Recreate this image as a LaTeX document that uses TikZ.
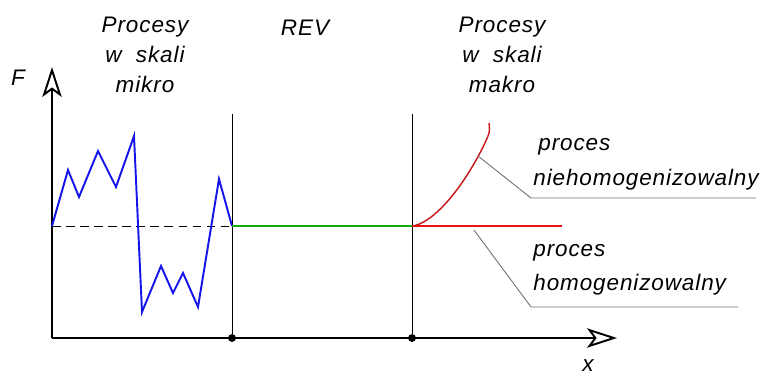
\documentclass[tikz,border=0pt]{standalone}
\usepackage{fontspec}
\setmainfont{Liberation Sans}
\usepackage{tikz}
\usetikzlibrary{arrows.meta, positioning}
\definecolor{microblue}{RGB}{20, 20, 235}
\definecolor{revgreen}{RGB}{20, 170, 20}
\definecolor{homred}{RGB}{235, 20, 20}
\definecolor{nonhomred}{RGB}{200, 20, 20}
\definecolor{leadergray}{RGB}{110, 110, 110}

\begin{document}
\begin{tikzpicture}[
        x=0.02cm, y=-0.02cm,
        every node/.style={font=\fontsize{12.8}{17}\selectfont\itshape\addfontfeatures{LetterSpace=4}, inner sep=0pt},
        label/.style={align=center},
        axis/.style={line width=1.1pt, -{Stealth[open, length=17pt, width=11pt, inset=4pt]}},
        border/.style={line width=0.5pt},
        leader/.style={leadergray, line width=0.5pt},
        joint/.style={circle, fill=black, minimum size=4.5pt}
    ]
        \useasboundingbox (0,0) rectangle (763,376);
        \coordinate (O) at (52,338);
        \coordinate (Ftop) at (52,67);
        \coordinate (Xend) at (617,338);
        \coordinate (Lev) at (52,226);
        \coordinate (Ar) at (232,226);
        \coordinate (Br) at (412,226);
        \coordinate (Hend) at (562,226);
        \coordinate (Atop) at (232,114);
        \coordinate (Btop) at (412,114);
        \node[joint] (A) at (232,338) {};
        \node[joint] (B) at (412,338) {};
        \draw[axis] (O) -- (Ftop);
        \draw[axis] (O) -- (Xend);
        \draw[border] (A) -- (Atop);
        \draw[border] (B) -- (Btop);
        \draw[border, dash pattern=on 5pt off 3pt] (Lev) -- (Ar);
        \draw[microblue, line width=1.1pt, line join=miter] (Lev) -- (68,170) -- (79,197) -- (98,151) -- (116,187) -- (134,136)
            -- (142,312) -- (161,266) -- (173,293) -- (183,273) -- (198,307) -- (219,179) -- (Ar);
        \draw[revgreen, line width=1.1pt] (Ar) -- (Br);
        \draw[homred, line width=1.1pt] (Br) -- (Hend);
        \draw[nonhomred, line width=0.8pt] (Br) .. controls (432,224) and (462,190) .. (484,145) .. controls (490,132) .. (489,123);
        \node[label] (mikro) at (145,55) {Procesy\\w\ \ skali\\mikro};
        \node[label] (rev) at (305,28) {REV};
        \node[label] (makro) at (502,55) {Procesy\\w\ \ skali\\makro};
        \node (F) at (18,78) {F};
        \node (x) at (588,366) {x};
        \node[anchor=west] (p1) at (538,147) {proces};
        \node[anchor=west] (n1) at (533,180) {niehomogenizowalny};
        \node[anchor=west] (p2) at (533,253) {proces};
        \node[anchor=west] (n2) at (533,285) {homogenizowalny};
        \coordinate (c1) at (478,156);
        \coordinate (k1) at (531,198);
        \coordinate (e1) at (756,198);
        \coordinate (c2) at (474,230);
        \coordinate (k2) at (531,307);
        \coordinate (e2) at (738,307);
        \draw[leader] (c1) -- (k1) -- (e1);
        \draw[leader] (c2) -- (k2) -- (e2);
    \end{tikzpicture}
\end{document}
